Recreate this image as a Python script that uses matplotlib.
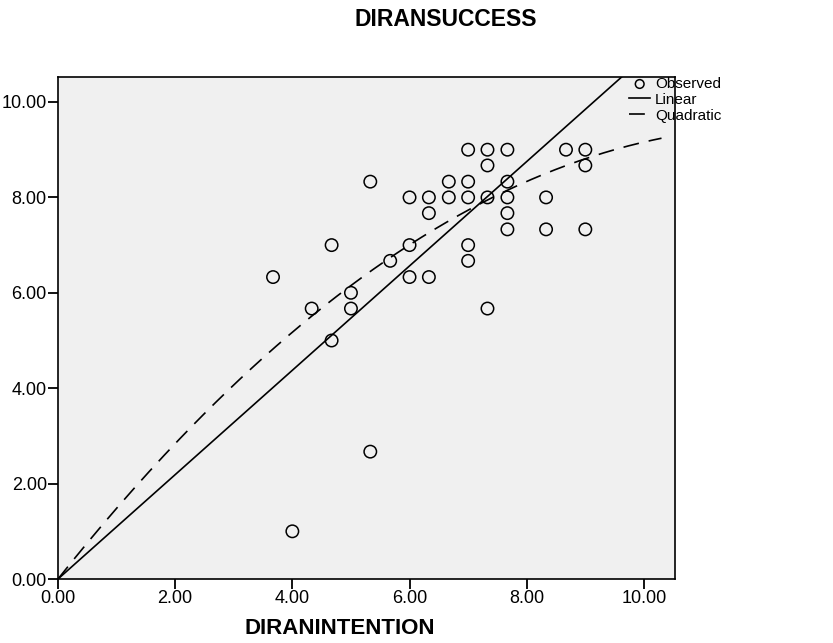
import numpy as np
import matplotlib.pyplot as plt

plt.rcParams['font.family'] = ['Liberation Sans', 'DejaVu Sans']

# observed points (DIRANINTENTION, DIRANSUCCESS)
intention = [3.67, 4.00, 4.33, 4.67, 4.67, 5.00, 5.00, 5.33, 5.33, 5.67,
             6.00, 6.00, 6.00, 6.33, 6.33, 6.33, 6.67, 6.67,
             7.00, 7.00, 7.00, 7.00, 7.00, 7.33, 7.33, 7.33, 7.33,
             7.67, 7.67, 7.67, 7.67, 7.67, 8.33, 8.33, 8.67, 9.00, 9.00, 9.00]
success = [6.33, 1.00, 5.67, 7.00, 5.00, 6.00, 5.67, 8.33, 2.67, 6.67,
           8.00, 7.00, 6.33, 8.00, 7.67, 6.33, 8.33, 8.00,
           9.00, 8.33, 8.00, 7.00, 6.67, 9.00, 8.67, 8.00, 5.67,
           9.00, 8.33, 8.00, 7.67, 7.33, 8.00, 7.33, 9.00, 9.00, 8.67, 7.33]

# fitted models (no constant), coefficients
linear_b1 = 1.094
quad_b1 = 1.545
quad_b2 = -0.0629
fit_xmax = 10.3

fig = plt.figure(figsize=(8.33, 6.43), dpi=100)
ax = fig.add_axes([0.0696, 0.0995, 0.7407, 0.7812])
ax.set_facecolor('#f0f0f0')

ax.scatter(intention, success, s=80, facecolors='none', edgecolors='black',
           linewidths=1.1, zorder=3, label='Observed')

xs = np.linspace(0, fit_xmax, 200)
ax.plot(xs, linear_b1 * xs, color='black', lw=1.2, label='Linear')
ax.plot(xs, quad_b1 * xs + quad_b2 * xs ** 2, color='black', lw=1.2,
        dashes=(9.5, 6), label='Quadratic')

ax.set_xlim(0, 10.53)
ax.set_ylim(0, 10.53)
ax.set_xticks(np.arange(0, 11, 2))
ax.set_yticks(np.arange(0, 11, 2))
ax.xaxis.set_major_formatter(plt.FormatStrFormatter('%.2f'))
ax.yaxis.set_major_formatter(plt.FormatStrFormatter('%.2f'))
ax.tick_params(direction='out', length=7, width=1.3, labelsize=13, colors='black', pad=1)
for sp in ax.spines.values():
    sp.set_linewidth(1.2)

fig.text(446 / 833, 1 - 20 / 643, 'DIRANSUCCESS', ha='center', va='center',
         fontsize=16.5, fontweight='bold')
fig.text(340 / 833, 1 - 629 / 643, 'DIRANINTENTION', ha='center', va='center',
         fontsize=16, fontweight='bold')

fig.legend(loc='upper left', bbox_to_anchor=(629 / 833, 1 - 77 / 643),
           frameon=False, fontsize=11, handlelength=1.4, handletextpad=0.3,
           labelspacing=0.12, borderaxespad=0, borderpad=0, markerscale=0.7)

fig.savefig('out.png', dpi=100)
